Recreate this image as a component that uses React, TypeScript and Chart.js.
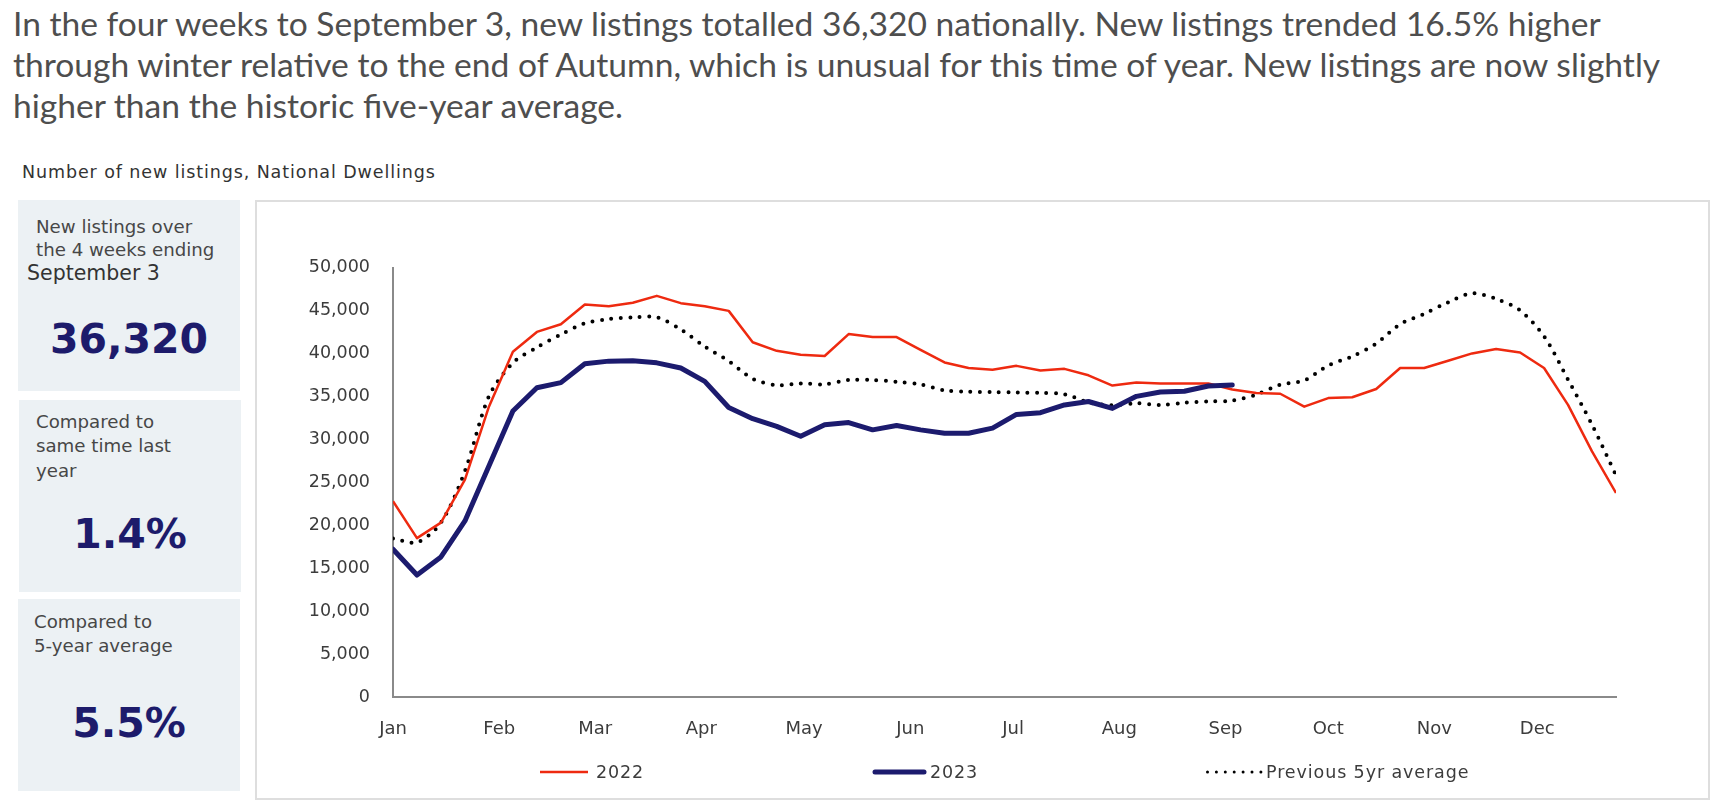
import React, { useEffect, useRef } from "react";
import { Chart, registerables } from "chart.js";

Chart.register(...registerables);

// ---------- data ----------
const MONTH_LABELS = ["Jan", "Feb", "Mar", "Apr", "May", "Jun", "Jul", "Aug", "Sep", "Oct", "Nov", "Dec"];
const MONTH_START_DAYS = [0, 31, 59, 90, 120, 151, 181, 212, 243, 273, 304, 334];
const DAYS_PER_WEEK = 7;
const LAST_WEEK_DAY = 357;

const Y_MIN = 0;
const Y_MAX = 50000;
const Y_STEP = 5000;

const SERIES_LABELS = ["2022", "2023", "Previous 5yr average"];

const SERIES_2022 = [
  22800, 18500, 20300, 25300, 33800, 40200, 42500, 43400, 45700, 45500,
  45900, 46700, 45850, 45500, 44950, 41300, 40300, 39850, 39700, 42250,
  41900, 41900, 40400, 38950, 38300, 38100, 38550, 38000, 38200, 37450,
  36250, 36600, 36500, 36500, 36500, 35800, 35400, 35300, 33800, 34800,
  34900, 35850, 38300, 38300, 39150, 40000, 40500, 40100, 38300, 34000,
  28600, 23750,
];

const SERIES_2023 = [
  17200, 14200, 16300, 20500, 26900, 33300, 36000, 36600, 38800, 39100,
  39150, 38900, 38300, 36750, 33700, 32400, 31500, 30350, 31700, 31950,
  31100, 31600, 31100, 30700, 30700, 31300, 32900, 33100, 34000, 34400,
  33600, 35000, 35500, 35600, 36200, 36320,
];

const SERIES_AVG = [
  18450, 18000, 20300, 26300, 35000, 38900, 40700, 42200, 43500, 44000,
  44200, 44200, 42800, 40800, 39100, 37050, 36300, 36500, 36400, 36900,
  36900, 36700, 36400, 35700, 35550, 35500, 35450, 35400, 35250, 34300,
  33950, 34200, 34000, 34250, 34400, 34500, 35200, 36350, 36850, 38600,
  39650, 41150, 43400, 44600, 45950, 47000, 46350, 45000, 42000, 36950,
  31700, 25800,
];

const HEADLINE_LINES = [
  "In the four weeks to September 3, new listings totalled 36,320 nationally. New listings trended 16.5% higher",
  "through winter relative to the end of Autumn, which is unusual for this time of year. New listings are now slightly",
  "higher than the historic five-year average.",
];
const SUBTITLE = "Number of new listings, National Dwellings";

// ---------- styles ----------
const RED = "#ee2a10";
const NAVY = "#1c1b6e";
const DOT = "#000000";
const AXIS = "#8a8a8a";
const TICK_TEXT = "#3c3c3c";
const CHART_FONT = "'DejaVu Sans', sans-serif";

const toPoints = (arr: number[]) => arr.map((v, i) => ({ x: i * DAYS_PER_WEEK, y: v }));

const LEGEND_LINE_WIDTHS = [2.5, 5, 3];
const LEGEND_DASHES: number[][] = [[], [], [0, 8.9]];
const LEGEND_CAPS: CanvasLineCap[] = ["butt", "round", "round"];
const LEGEND_LINE_END = [48, 51, 55];
const LEGEND_TEXT_OFFSET = [56, 57, 60];

const customLegend = {
  id: "customLegend",
  afterDraw(chart: any) {
    const { ctx, chartArea } = chart;
    const cx = (chartArea.left + chartArea.right) / 2;
    const y = chartArea.bottom + 75;
    chart.data.datasets.forEach((ds: any, i: number) => {
      const x0 = cx - 464.5 + i * 333;
      ctx.save();
      ctx.strokeStyle = ds.borderColor;
      ctx.lineWidth = LEGEND_LINE_WIDTHS[i];
      ctx.setLineDash(LEGEND_DASHES[i]);
      ctx.lineCap = LEGEND_CAPS[i];
      ctx.beginPath();
      ctx.moveTo(x0 + (i === 2 ? 1.5 : i === 1 ? 2 : 0), y);
      ctx.lineTo(x0 + LEGEND_LINE_END[i], y);
      ctx.stroke();
      ctx.setLineDash([]);
      ctx.fillStyle = TICK_TEXT;
      ctx.font = `17.5px ${CHART_FONT}`;
      (ctx as any).letterSpacing = "0.9px";
      ctx.textBaseline = "middle";
      ctx.textAlign = "left";
      ctx.fillText(ds.label, x0 + LEGEND_TEXT_OFFSET[i], y + 1);
      ctx.restore();
    });
  },
};

function LineChart() {
  const ref = useRef<HTMLCanvasElement | null>(null);
  useEffect(() => {
    if (!ref.current) return;
    const chart = new Chart(ref.current, {
      type: "line",
      data: {
        datasets: [
          {
            label: SERIES_LABELS[0],
            data: toPoints(SERIES_2022),
            borderColor: RED,
            backgroundColor: RED,
            borderWidth: 2.5,
            pointRadius: 0,
            tension: 0,
            borderJoinStyle: "round",
            order: 2,
          },
          {
            label: SERIES_LABELS[1],
            data: toPoints(SERIES_2023),
            borderColor: NAVY,
            backgroundColor: NAVY,
            borderWidth: 5,
            pointRadius: 0,
            tension: 0,
            borderCapStyle: "round",
            borderJoinStyle: "round",
            order: 1,
          },
          {
            label: SERIES_LABELS[2],
            data: toPoints(SERIES_AVG),
            borderColor: DOT,
            backgroundColor: DOT,
            borderWidth: 4,
            borderDash: [0, 9.5],
            borderCapStyle: "round",
            pointRadius: 0,
            tension: 0.3,
            order: 3,
          },
        ],
      },
      options: {
        animation: false,
        responsive: true,
        maintainAspectRatio: false,
        layout: { padding: { top: 65.5, right: 91, bottom: 0, left: 0 } },
        plugins: {
          legend: { display: false },
          tooltip: { enabled: false },
        },
        scales: {
          x: {
            type: "linear",
            min: 0,
            max: LAST_WEEK_DAY,
            grid: { display: false, drawTicks: false },
            border: { display: true, color: AXIS, width: 2 },
            afterBuildTicks: (scale: any) => {
              scale.ticks = MONTH_START_DAYS.map((v) => ({ value: v }));
            },
            afterFit: (scale: any) => {
              scale.height = 101;
            },
            ticks: {
              autoSkip: false,
              maxRotation: 0,
              padding: 22,
              color: TICK_TEXT,
              font: { family: CHART_FONT, size: 18 },
              callback: (_v: any, i: number) => MONTH_LABELS[i],
            },
          },
          y: {
            min: Y_MIN,
            max: Y_MAX,
            grid: { display: false, drawTicks: false },
            border: { display: true, color: AXIS, width: 2 },
            afterFit: (scale: any) => {
              scale.width = 136;
            },
            ticks: {
              stepSize: Y_STEP,
              padding: 23,
              color: TICK_TEXT,
              font: { family: CHART_FONT, size: 17.5 },
            },
          },
        },
      },
      plugins: [customLegend],
    } as any);
    return () => chart.destroy();
  }, []);
  return (
    <div style={{ position: "absolute", left: 257, top: 202, width: 1450, height: 596 }}>
      <canvas ref={ref} />
    </div>
  );
}

const panelStyle = (left: number, top: number, height: number): React.CSSProperties => ({
  position: "absolute",
  left,
  top,
  width: 222,
  height,
  background: "#ecf1f4",
});

const smallText = (left: number, centerY: number, extra: React.CSSProperties = {}): React.CSSProperties => ({
  position: "absolute",
  left,
  top: centerY - 11,
  height: 22,
  lineHeight: "22px",
  fontFamily: CHART_FONT,
  fontSize: 18.2,
  color: "#474747",
  whiteSpace: "nowrap",
  ...extra,
});

const bigText = (centerY: number): React.CSSProperties => ({
  position: "absolute",
  left: 0,
  width: 222,
  top: centerY - 25,
  height: 50,
  lineHeight: "50px",
  textAlign: "center",
  fontFamily: CHART_FONT,
  fontWeight: 700,
  fontSize: 41,
  color: "#1d1b6b",
  whiteSpace: "nowrap",
});

export default function App() {
  return (
    <div
      style={{
        position: "absolute",
        left: 0,
        top: 0,
        width: 1718,
        height: 811,
        overflow: "hidden",
        background: "#ffffff",
      }}
    >
      <div
        style={{
          position: "absolute",
          left: 13,
          top: 3,
          fontFamily: "Lato, sans-serif",
          fontSize: 33.6,
          lineHeight: "41px",
          color: "#4e4e4e",
          whiteSpace: "nowrap",
        }}
      >
        {HEADLINE_LINES.map((l, i) => (
          <div key={i}>{l}</div>
        ))}
      </div>

      <div style={{ ...smallText(22, 172), color: "#333333", fontSize: 17.5, letterSpacing: 0.9 }}>{SUBTITLE}</div>

      <div style={panelStyle(18, 200, 191)}>
        <div style={smallText(18, 27)}>New listings over</div>
        <div style={smallText(18, 50)}>the 4 weeks ending</div>
        <div style={smallText(9, 73, { color: "#333333", fontSize: 20.5 })}>September 3</div>
        <div style={bigText(139)}>36,320</div>
      </div>

      <div style={panelStyle(19, 400, 192)}>
        <div style={smallText(17, 22)}>Compared to</div>
        <div style={smallText(17, 46)}>same time last</div>
        <div style={smallText(17, 71)}>year</div>
        <div style={bigText(134)}>1.4%</div>
      </div>

      <div style={panelStyle(18, 599, 192)}>
        <div style={smallText(16, 23)}>Compared to</div>
        <div style={smallText(16, 47)}>5-year average</div>
        <div style={bigText(124)}>5.5%</div>
      </div>

      <div
        style={{
          position: "absolute",
          left: 255,
          top: 200,
          width: 1455,
          height: 600,
          boxSizing: "border-box",
          border: "2px solid #dedede",
        }}
      />
      <LineChart />
    </div>
  );
}
